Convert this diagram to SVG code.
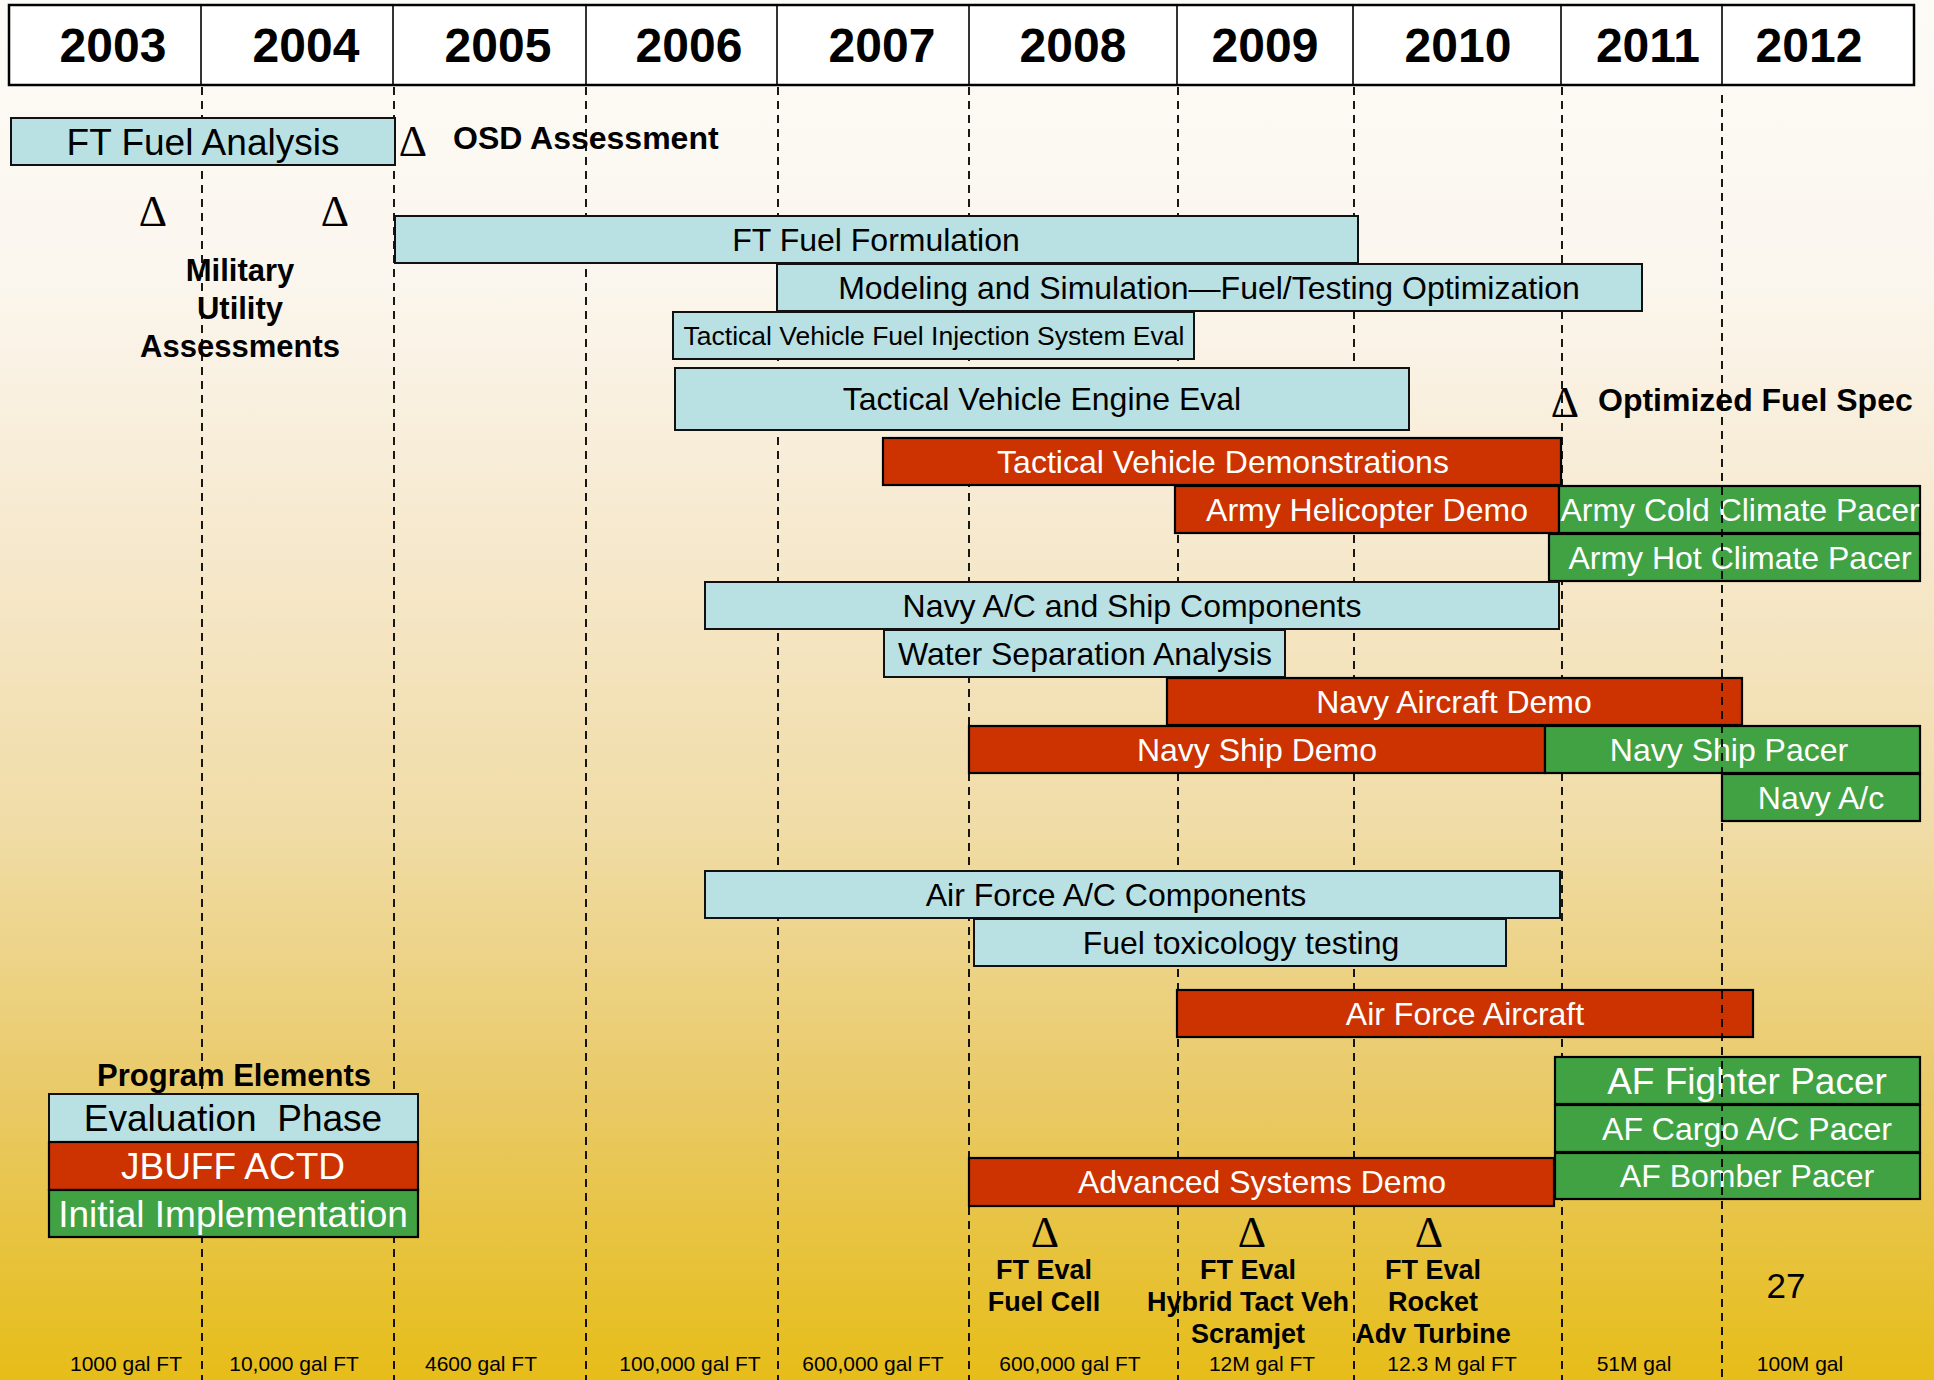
<svg xmlns="http://www.w3.org/2000/svg" width="1934" height="1380" viewBox="0 0 1934 1380">
<defs>
<linearGradient id="bg" x1="0" y1="0" x2="0" y2="1">
<stop offset="0" stop-color="#fdfbf7"/>
<stop offset="0.2" stop-color="#fbf6ee"/>
<stop offset="0.4" stop-color="#f6e8cc"/>
<stop offset="0.6" stop-color="#f0dca6"/>
<stop offset="0.8" stop-color="#e9c965"/>
<stop offset="1" stop-color="#e6bd18"/>
</linearGradient>
<style>
.t{font-family:"Liberation Sans",Arial,sans-serif;text-anchor:middle}
.b{font-weight:bold}
.d{font-family:"Liberation Serif","Times New Roman",serif;font-size:44px;text-anchor:middle;fill:#000}
.blue{fill:#b9e0e3;stroke:#111;stroke-width:2}
.red{fill:#cc3300;stroke:#000;stroke-width:2.2}
.green{fill:#41a244;stroke:#000;stroke-width:2.2}
.dk{fill:#000}
.wh{fill:#fff}
.grid{stroke:#000;stroke-width:1.8;stroke-dasharray:8 6;fill:none}
.q{font-size:21px}
</style>
</defs>
<rect x="0" y="0" width="1934" height="1380" fill="url(#bg)"/>

<g id="grid-lines">
<line class="grid" x1="202" y1="87" x2="202" y2="1380"/>
<line class="grid" x1="394" y1="87" x2="394" y2="1380"/>
<line class="grid" x1="586" y1="87" x2="586" y2="1380"/>
<line class="grid" x1="778" y1="87" x2="778" y2="1380"/>
<line class="grid" x1="969" y1="87" x2="969" y2="1380"/>
<line class="grid" x1="1178" y1="87" x2="1178" y2="1380"/>
<line class="grid" x1="1354" y1="87" x2="1354" y2="1380"/>
<line class="grid" x1="1562" y1="87" x2="1562" y2="1380"/>
</g>

<g id="header">
<rect x="9" y="5" width="1905" height="80" fill="#fff" stroke="#000" stroke-width="2.5"/>
<g stroke="#000" stroke-width="1.6">
<line x1="201" y1="5" x2="201" y2="85"/>
<line x1="393" y1="5" x2="393" y2="85"/>
<line x1="586" y1="5" x2="586" y2="85"/>
<line x1="777" y1="5" x2="777" y2="85"/>
<line x1="969" y1="5" x2="969" y2="85"/>
<line x1="1177" y1="5" x2="1177" y2="85"/>
<line x1="1353" y1="5" x2="1353" y2="85"/>
<line x1="1561" y1="5" x2="1561" y2="85"/>
<line x1="1722" y1="5" x2="1722" y2="85"/>
</g>
<g class="t b dk" font-size="48">
<text x="113" y="62">2003</text>
<text x="306" y="62">2004</text>
<text x="498" y="62">2005</text>
<text x="689" y="62">2006</text>
<text x="882" y="62">2007</text>
<text x="1073" y="62">2008</text>
<text x="1265" y="62">2009</text>
<text x="1458" y="62">2010</text>
<text x="1648" y="62">2011</text>
<text x="1809" y="62">2012</text>
</g>
</g>

<g id="ft-fuel-analysis"><rect class="blue" x="11" y="118" width="384" height="47"/><text class="t dk" font-size="37" x="203" y="154.5">FT Fuel Analysis</text></g>
<g id="ft-fuel-formulation"><rect class="blue" x="395" y="216" width="963" height="47"/><text class="t dk" font-size="32" x="876" y="250.5">FT Fuel Formulation</text></g>
<g id="modeling-simulation"><rect class="blue" x="777" y="264" width="865" height="47"/><text class="t dk" font-size="32" x="1209" y="298.5">Modeling and Simulation—Fuel/Testing Optimization</text></g>
<g id="tv-fuel-injection"><rect class="blue" x="673" y="312" width="521" height="47"/><text class="t dk" font-size="26.5" x="934" y="345">Tactical Vehicle Fuel Injection System Eval</text></g>
<g id="tv-engine-eval"><rect class="blue" x="675" y="368" width="734" height="62"/><text class="t dk" font-size="32" x="1042" y="410">Tactical Vehicle Engine Eval</text></g>
<g id="tv-demonstrations"><rect class="red" x="883" y="438" width="678" height="47"/><text class="t wh" font-size="32" x="1223" y="472.5">Tactical Vehicle Demonstrations</text></g>
<g id="army-helicopter-demo"><rect class="red" x="1175" y="486" width="384" height="47"/><text class="t wh" font-size="32" x="1367" y="520.5">Army Helicopter Demo</text></g>
<g id="army-cold-climate-pacer"><rect class="green" x="1559" y="486" width="361" height="47"/><text class="t wh" font-size="32" x="1740" y="520.5">Army Cold Climate Pacer</text></g>
<g id="army-hot-climate-pacer"><rect class="green" x="1549" y="534" width="371" height="47"/><text class="t wh" font-size="32" x="1740" y="568.5">Army Hot Climate Pacer</text></g>
<g id="navy-ac-ship-components"><rect class="blue" x="705" y="582" width="854" height="47"/><text class="t dk" font-size="32" x="1132" y="616.5">Navy A/C and Ship Components</text></g>
<g id="water-separation"><rect class="blue" x="884" y="630" width="401" height="47"/><text class="t dk" font-size="32" x="1085" y="664.5">Water Separation Analysis</text></g>
<g id="navy-aircraft-demo"><rect class="red" x="1167" y="678" width="575" height="47"/><text class="t wh" font-size="32" x="1454" y="712.5">Navy Aircraft Demo</text></g>
<g id="navy-ship-demo"><rect class="red" x="969" y="726" width="576" height="47"/><text class="t wh" font-size="32" x="1257" y="760.5">Navy Ship Demo</text></g>
<g id="navy-ship-pacer"><rect class="green" x="1545" y="726" width="375" height="47"/><text class="t wh" font-size="32" x="1729" y="760.5">Navy Ship Pacer</text></g>
<g id="navy-ac"><rect class="green" x="1722" y="774" width="198" height="47"/><text class="t wh" font-size="32" x="1821" y="808.5">Navy A/c</text></g>
<g id="af-ac-components"><rect class="blue" x="705" y="871" width="855" height="47"/><text class="t dk" font-size="32" x="1116" y="905.5">Air Force A/C Components</text></g>
<g id="fuel-toxicology"><rect class="blue" x="974" y="919" width="532" height="47"/><text class="t dk" font-size="32" x="1241" y="953.5">Fuel toxicology testing</text></g>
<g id="af-aircraft"><rect class="red" x="1177" y="990" width="576" height="47"/><text class="t wh" font-size="32" x="1465" y="1024.5">Air Force Aircraft</text></g>
<g id="af-fighter-pacer"><rect class="green" x="1555" y="1057" width="365" height="47"/><text class="t wh" font-size="37" x="1747" y="1093.5">AF Fighter Pacer</text></g>
<g id="af-cargo-pacer"><rect class="green" x="1555" y="1105" width="365" height="47"/><text class="t wh" font-size="32" x="1747" y="1139.5">AF Cargo A/C Pacer</text></g>
<g id="af-bomber-pacer"><rect class="green" x="1555" y="1153" width="365" height="46"/><text class="t wh" font-size="32" x="1747" y="1187">AF Bomber Pacer</text></g>
<g id="advanced-systems-demo"><rect class="red" x="969" y="1158" width="585" height="48"/><text class="t wh" font-size="32" x="1262" y="1193">Advanced Systems Demo</text></g>

<g id="legend">
<text class="t b dk" font-size="31" x="234" y="1086">Program Elements</text>
<rect class="blue" x="49" y="1094" width="369" height="48"/>
<text class="t dk" font-size="37" x="233" y="1131">Evaluation&#160; Phase</text>
<rect class="red" x="49" y="1142" width="369" height="48"/>
<text class="t wh" font-size="37" x="233" y="1179">JBUFF ACTD</text>
<rect class="green" x="49" y="1190" width="369" height="47"/>
<text class="t wh" font-size="37" x="233" y="1227">Initial Implementation</text>
</g>

<g id="milestones">
<text class="d" x="153" y="226">Δ</text>
<text class="d" x="335" y="226">Δ</text>
<g class="t b dk" font-size="31">
<text x="240" y="281">Military</text>
<text x="240" y="319">Utility</text>
<text x="240" y="357">Assessments</text>
</g>
<text class="d" x="413" y="156">Δ</text>
<text class="t b dk" font-size="32" x="453" y="149" style="text-anchor:start">OSD Assessment</text>
<text class="d" x="1565" y="417">Δ</text>
<text class="t b dk" font-size="32" x="1598" y="411" style="text-anchor:start">Optimized Fuel Spec</text>
<text class="d" x="1045" y="1247">Δ</text>
<text class="d" x="1252" y="1247">Δ</text>
<text class="d" x="1429" y="1247">Δ</text>
<g class="t b dk" font-size="27">
<text x="1044" y="1279">FT Eval</text>
<text x="1044" y="1311">Fuel Cell</text>
<text x="1248" y="1279">FT Eval</text>
<text x="1248" y="1311">Hybrid Tact Veh</text>
<text x="1248" y="1343">Scramjet</text>
<text x="1433" y="1279">FT Eval</text>
<text x="1433" y="1311">Rocket</text>
<text x="1433" y="1343">Adv Turbine</text>
</g>
<text class="t dk" font-size="35" x="1786" y="1298">27</text>
</g>

<g id="quantities" class="t dk q">
<text x="126" y="1371">1000 gal FT</text>
<text x="294" y="1371">10,000 gal FT</text>
<text x="481" y="1371">4600 gal FT</text>
<text x="690" y="1371">100,000 gal FT</text>
<text x="873" y="1371">600,000 gal FT</text>
<text x="1070" y="1371">600,000 gal FT</text>
<text x="1262" y="1371">12M gal FT</text>
<text x="1452" y="1371">12.3 M gal FT</text>
<text x="1634" y="1371">51M gal</text>
<text x="1800" y="1371">100M gal</text>
</g>

<g id="grid-line-2012">
<line class="grid" x1="1722" y1="95" x2="1722" y2="1380"/>
</g>
</svg>
